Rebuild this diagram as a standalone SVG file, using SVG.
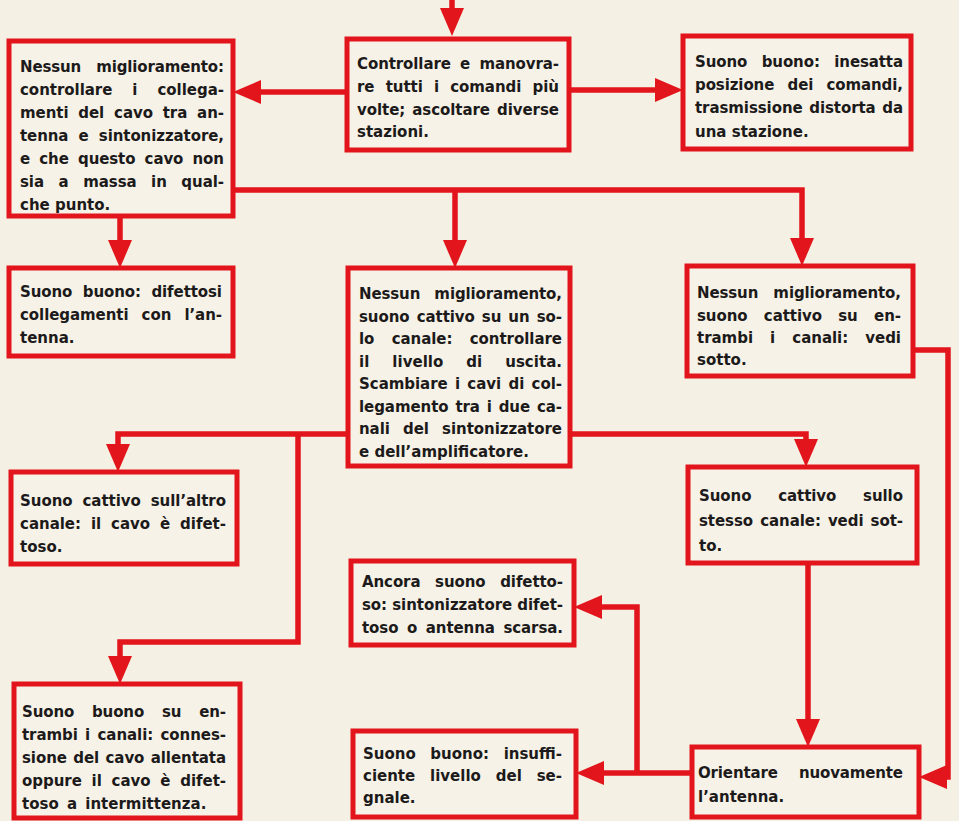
<svg xmlns="http://www.w3.org/2000/svg" width="959" height="821" viewBox="0 0 959 821">
<defs>
<style>
.bx{fill:#f7f2e7;stroke:#e3151c;stroke-width:5}
.c{fill:none;stroke:#e3151c;stroke-width:5.5;stroke-linejoin:miter}
.t{font-family:"DejaVu Sans",Verdana,sans-serif;font-weight:bold;font-size:15px;fill:#1c1a1a}
</style>
<marker id="ah" viewBox="0 0 28 24" refX="8" refY="12" markerWidth="28" markerHeight="24" markerUnits="userSpaceOnUse" orient="auto">
<path d="M0,0 L28,12 L0,24 z" fill="#e3151c"/>
</marker>
</defs>
<rect width="959" height="821" fill="#f5f0e4"/>

<g id="connectors">
<path class="c" d="M452,0 V16" marker-end="url(#ah)"/>
<path class="c" d="M347,92 H253" marker-end="url(#ah)"/>
<path class="c" d="M569,90 H663" marker-end="url(#ah)"/>
<path class="c" d="M233,190 H802 V246" marker-end="url(#ah)"/>
<path class="c" d="M455,190 V248" marker-end="url(#ah)"/>
<path class="c" d="M120,216 V248" marker-end="url(#ah)"/>
<path class="c" d="M348,434 H118 V452" marker-end="url(#ah)"/>
<path class="c" d="M298,434 V642 H120 V664" marker-end="url(#ah)"/>
<path class="c" d="M570,434 H806 V447" marker-end="url(#ah)"/>
<path class="c" d="M808,563 V727" marker-end="url(#ah)"/>
<path class="c" d="M913,350 H948 V777 H939" marker-end="url(#ah)"/>
<path class="c" d="M692,773 H596" marker-end="url(#ah)"/>
<path class="c" d="M637,773 V607 H594" marker-end="url(#ah)"/>
</g>

<g id="n1">
<rect class="bx" x="347" y="39" width="222" height="111"/>
<text class="t" x="357" y="69" word-spacing="4.1" textLength="202" lengthAdjust="spacing">Controllare e manovra-</text>
<text class="t" x="357" y="92" word-spacing="6" textLength="202" lengthAdjust="spacing">re tutti i comandi più</text>
<text class="t" x="357" y="115" word-spacing="1.8" textLength="202" lengthAdjust="spacing">volte; ascoltare diverse</text>
<text class="t" x="357" y="137">stazioni.</text>
</g>

<g id="n2">
<rect class="bx" x="9" y="41" width="224" height="175"/>
<text class="t" x="20" y="72" word-spacing="9.9" textLength="204" lengthAdjust="spacing">Nessun miglioramento:</text>
<text class="t" x="20" y="95" word-spacing="14.8" textLength="204" lengthAdjust="spacing">controllare i collega-</text>
<text class="t" x="20" y="118" word-spacing="4.7" textLength="204" lengthAdjust="spacing">menti del cavo tra an-</text>
<text class="t" x="20" y="141" word-spacing="5" textLength="204" lengthAdjust="spacing">tenna e sintonizzatore,</text>
<text class="t" x="20" y="164" word-spacing="4.1" textLength="204" lengthAdjust="spacing">e che questo cavo non</text>
<text class="t" x="20" y="187" word-spacing="9.4" textLength="204" lengthAdjust="spacing">sia a massa in qual-</text>
<text class="t" x="20" y="210">che punto.</text>
</g>

<g id="n3">
<rect class="bx" x="683" y="36" width="228" height="113"/>
<text class="t" x="695" y="67" word-spacing="9.4" textLength="208" lengthAdjust="spacing">Suono buono: inesatta</text>
<text class="t" x="695" y="90" word-spacing="8.1" textLength="208" lengthAdjust="spacing">posizione dei comandi,</text>
<text class="t" x="695" y="113" word-spacing="1.5" textLength="208" lengthAdjust="spacing">trasmissione distorta da</text>
<text class="t" x="695" y="137">una stazione.</text>
</g>

<g id="n4">
<rect class="bx" x="9" y="268" width="224" height="88"/>
<text class="t" x="20" y="297" word-spacing="5.3" textLength="202" lengthAdjust="spacing">Suono buono: difettosi</text>
<text class="t" x="20" y="320" word-spacing="8" textLength="202" lengthAdjust="spacing">collegamenti con l’an-</text>
<text class="t" x="20" y="343">tenna.</text>
</g>

<g id="n5">
<rect class="bx" x="348" y="268" width="222" height="198"/>
<text class="t" x="359" y="299" word-spacing="9.1" textLength="203" lengthAdjust="spacing">Nessun miglioramento,</text>
<text class="t" x="359" y="321.5" word-spacing="1.9" textLength="203" lengthAdjust="spacing">suono cattivo su un so-</text>
<text class="t" x="359" y="344" word-spacing="12.1" textLength="203" lengthAdjust="spacing">lo canale: controllare</text>
<text class="t" x="359" y="366.5" word-spacing="17.7" textLength="203" lengthAdjust="spacing">il livello di uscita.</text>
<text class="t" x="359" y="389" word-spacing="2.1" textLength="203" lengthAdjust="spacing">Scambiare i cavi di col-</text>
<text class="t" x="359" y="411.5" word-spacing="1.7" textLength="203" lengthAdjust="spacing">legamento tra i due ca-</text>
<text class="t" x="359" y="434" word-spacing="8" textLength="203" lengthAdjust="spacing">nali del sintonizzatore</text>
<text class="t" x="359" y="456.5">e dell’amplificatore.</text>
</g>

<g id="n6">
<rect class="bx" x="687" y="266" width="226" height="110"/>
<text class="t" x="697" y="298" word-spacing="10.1" textLength="204" lengthAdjust="spacing">Nessun miglioramento,</text>
<text class="t" x="697" y="321" word-spacing="11.2" textLength="204" lengthAdjust="spacing">suono cattivo su en-</text>
<text class="t" x="697" y="343" word-spacing="11.9" textLength="204" lengthAdjust="spacing">trambi i canali: vedi</text>
<text class="t" x="697" y="365">sotto.</text>
</g>

<g id="n7">
<rect class="bx" x="11" y="472" width="226" height="92"/>
<text class="t" x="20" y="506" word-spacing="4.8" textLength="206" lengthAdjust="spacing">Suono cattivo sull’altro</text>
<text class="t" x="20" y="529" word-spacing="4.7" textLength="206" lengthAdjust="spacing">canale: il cavo è difet-</text>
<text class="t" x="20" y="552">toso.</text>
</g>

<g id="n8">
<rect class="bx" x="688" y="467" width="229" height="96"/>
<text class="t" x="699" y="501" word-spacing="21.6" textLength="204" lengthAdjust="spacing">Suono cattivo sullo</text>
<text class="t" x="699" y="526" word-spacing="1.9" textLength="204" lengthAdjust="spacing">stesso canale: vedi sot-</text>
<text class="t" x="699" y="551">to.</text>
</g>

<g id="n9">
<rect class="bx" x="351" y="561" width="223" height="84"/>
<text class="t" x="362" y="587" word-spacing="9.5" textLength="201" lengthAdjust="spacing">Ancora suono difetto-</text>
<text class="t" x="362" y="610" textLength="201" lengthAdjust="spacing">so: sintonizzatore difet-</text>
<text class="t" x="362" y="633" word-spacing="3.5" textLength="201" lengthAdjust="spacing">toso o antenna scarsa.</text>
</g>

<g id="n10">
<rect class="bx" x="14" y="684" width="226" height="134"/>
<text class="t" x="22" y="717" word-spacing="12.8" textLength="204" lengthAdjust="spacing">Suono buono su en-</text>
<text class="t" x="22" y="740" word-spacing="2.1" textLength="204" lengthAdjust="spacing">trambi i canali: connes-</text>
<text class="t" x="22" y="763" word-spacing="1.2" textLength="204" lengthAdjust="spacing">sione del cavo allentata</text>
<text class="t" x="22" y="786" word-spacing="4.6" textLength="204" lengthAdjust="spacing">oppure il cavo è difet-</text>
<text class="t" x="22" y="809" word-spacing="3">toso a intermittenza.</text>
</g>

<g id="n11">
<rect class="bx" x="353" y="731" width="223" height="86"/>
<text class="t" x="363" y="759" word-spacing="9.4" textLength="199" lengthAdjust="spacing">Suono buono: insuffi-</text>
<text class="t" x="363" y="781" word-spacing="9.7" textLength="199" lengthAdjust="spacing">ciente livello del se-</text>
<text class="t" x="363" y="803">gnale.</text>
</g>

<g id="n12">
<rect class="bx" x="692" y="747" width="227" height="70"/>
<text class="t" x="698" y="778" word-spacing="16.2" textLength="205" lengthAdjust="spacing">Orientare nuovamente</text>
<text class="t" x="698" y="802">l’antenna.</text>
</g>
</svg>
